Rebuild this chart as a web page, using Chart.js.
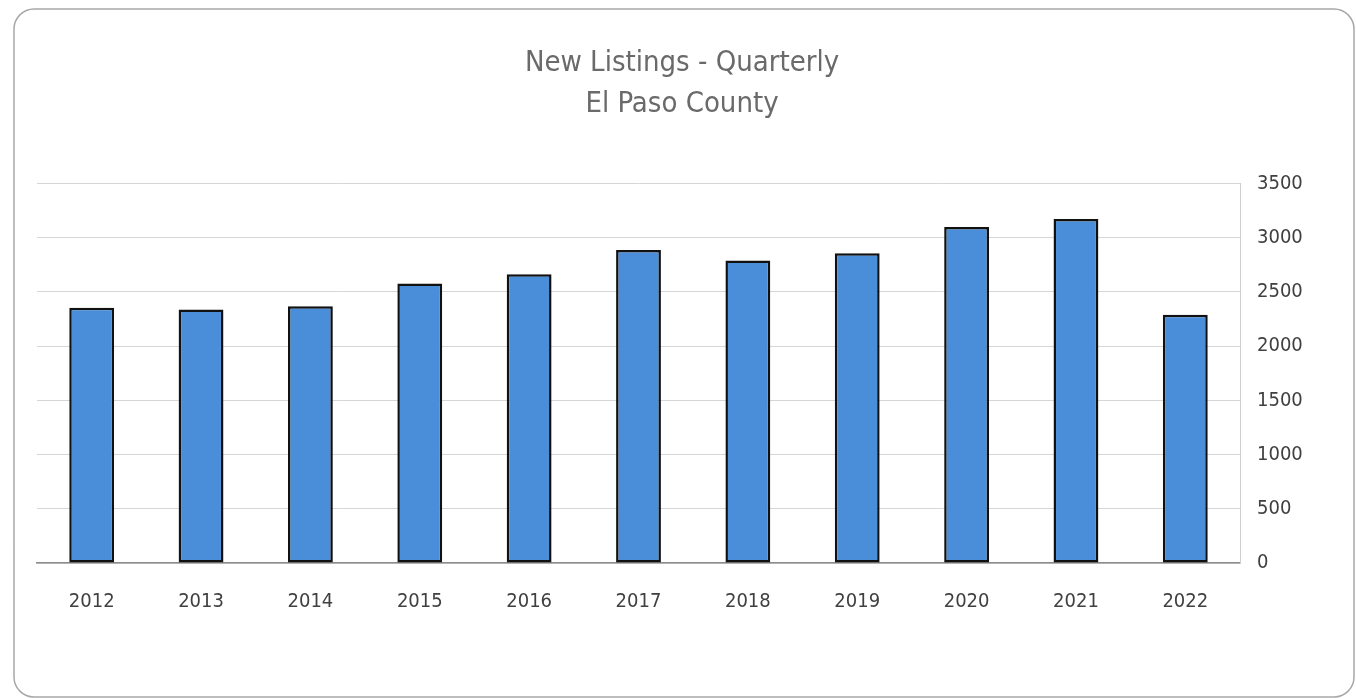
<!DOCTYPE html>
<html>
<head>
<meta charset="utf-8">
<script src="https://cdn.jsdelivr.net/npm/chart.js@4/dist/chart.umd.min.js"></script>
<style>
  html, body { margin: 0; padding: 0; background: #ffffff; }
  #wrap { position: relative; width: 1356px; height: 698px; }
</style>
</head>
<body>
<div id="wrap"><canvas id="c" width="1356" height="698"></canvas></div>
<script>
const categories = ['2012','2013','2014','2015','2016','2017','2018','2019','2020','2021','2022'];
const newListings = [2353, 2338, 2368, 2576, 2661, 2885, 2788, 2855, 3097, 3171, 2288];
const titleLines = ['New Listings - Quarterly', 'El Paso County'];
const yTickMin = 0, yTickMax = 3500, yTickStep = 500;

const FONT = '"Liberation Sans Narrow", "DejaVu Sans Condensed", "Open Sans", sans-serif';

const frame = {
  id: 'frame',
  beforeDraw(chart) {
    const ctx = chart.ctx;
    ctx.save();
    ctx.fillStyle = '#ffffff';
    ctx.fillRect(0, 0, chart.width, chart.height);
    ctx.strokeStyle = '#a8a8a8';
    ctx.lineWidth = 1.5;
    ctx.beginPath();
    ctx.roundRect(14, 9, 1340, 688, 20);
    ctx.stroke();
    ctx.restore();
  }
};

new Chart(document.getElementById('c'), {
  type: 'bar',
  data: {
    labels: categories,
    datasets: [{
      label: 'New Listings',
      data: newListings,
      backgroundColor: '#4a8dd8',
      borderColor: '#111111',
      borderWidth: 2.5,
      borderSkipped: false,
      categoryPercentage: 0.82,
      barPercentage: 0.5
    }]
  },
  options: {
    responsive: false,
    animation: false,
    devicePixelRatio: 1,
    layout: { padding: { left: 37, right: 29, top: 0, bottom: 0 } },
    plugins: {
      legend: { display: false },
      tooltip: { enabled: false },
      title: {
        display: true,
        text: titleLines,
        color: '#6a6a6a',
        font: { family: FONT, size: 29, weight: 'normal', lineHeight: 1.42 },
        padding: { top: 43, bottom: 58 }
      }
    },
    scales: {
      x: {
        grid: { display: false, drawTicks: false },
        border: { display: true, color: '#8c8c8c', width: 1.5 },
        ticks: { color: '#404040', font: { family: FONT, size: 20 }, padding: 27, maxRotation: 0 },
        afterFit(s) { s.height = 135; }
      },
      y: {
        position: 'right',
        min: yTickMin,
        max: yTickMax,
        grid: { color: '#d6d6d6', lineWidth: 1, drawTicks: false },
        border: { display: true, color: '#cfcfcf', width: 1 },
        ticks: {
          stepSize: yTickStep,
          color: '#404040',
          font: { family: FONT, size: 20 },
          padding: 17,
          callback: (v) => String(v)
        },
        afterFit(s) { s.width = 87; }
      }
    }
  },
  plugins: [frame]
});
</script>
</body>
</html>
